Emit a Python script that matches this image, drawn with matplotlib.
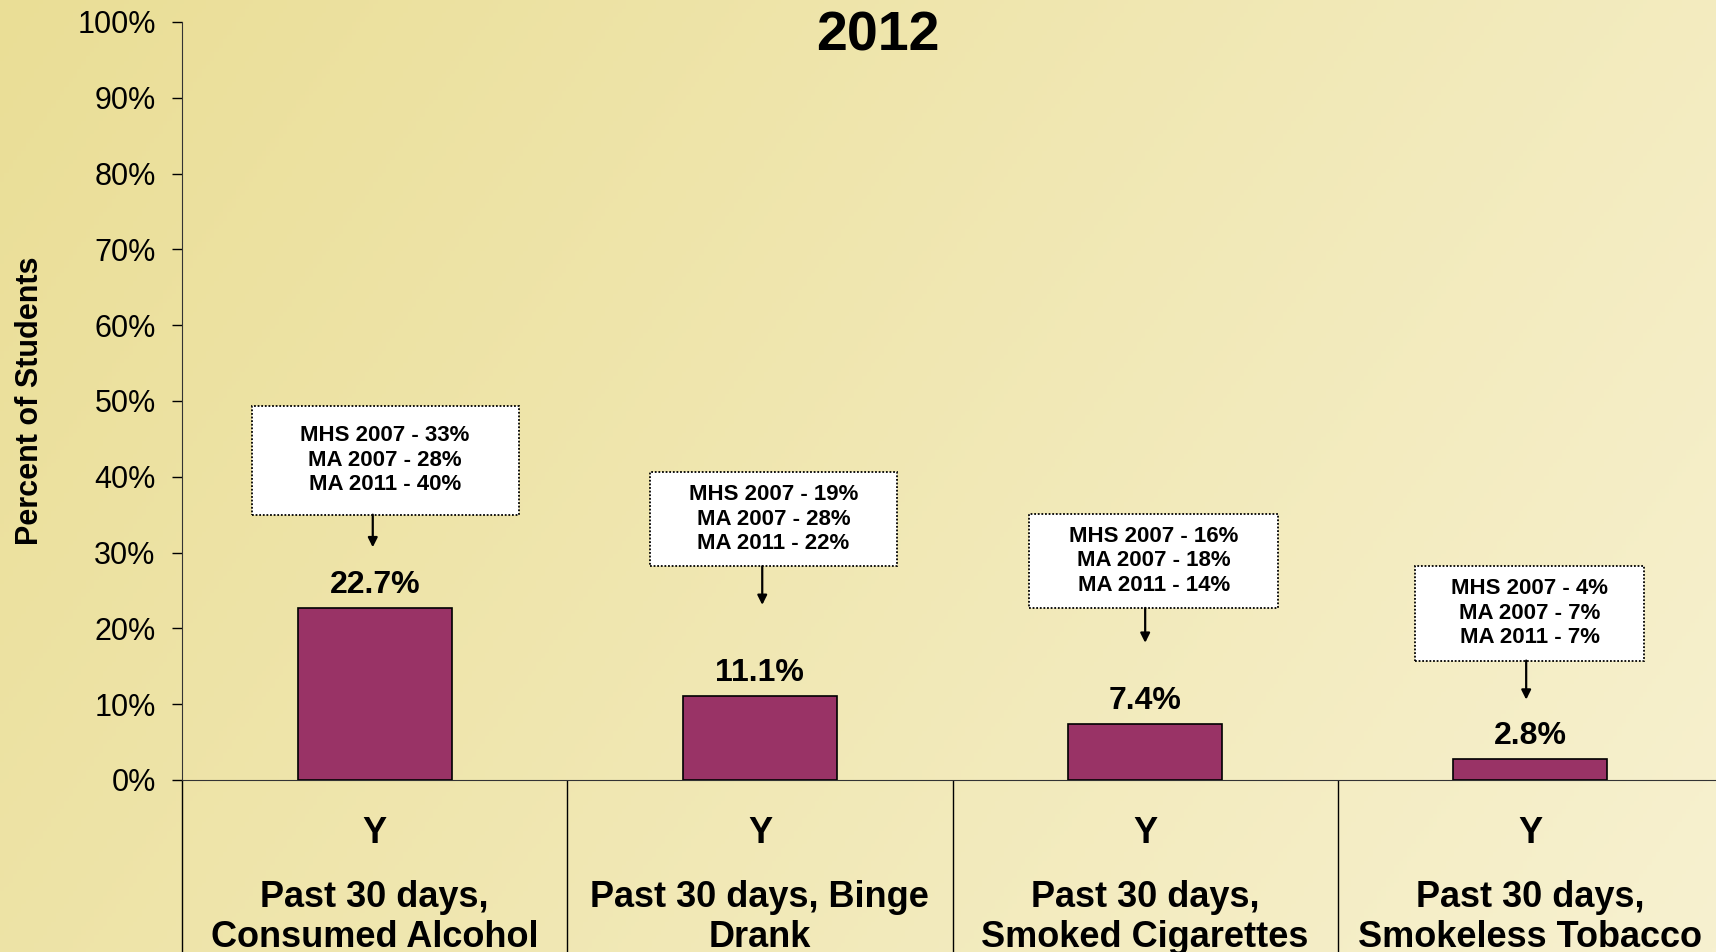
import numpy as np
import matplotlib.pyplot as plt
from matplotlib.patches import Rectangle

plt.rcParams['font.family'] = ['Liberation Sans', 'DejaVu Sans']

# datos
categories = ["Past 30 days,\nConsumed Alcohol", "Past 30 days, Binge\nDrank",
              "Past 30 days,\nSmoked Cigarettes", "Past 30 days,\nSmokeless Tobacco"]
group_label = "Y"
values = [22.7, 11.1, 7.4, 2.8]
compare_notes = ["MHS 2007 - 33%\nMA 2007 - 28%\nMA 2011 - 40%",
                 "MHS 2007 - 19%\nMA 2007 - 28%\nMA 2011 - 22%",
                 "MHS 2007 - 16%\nMA 2007 - 18%\nMA 2011 - 14%",
                 "MHS 2007 - 4%\nMA 2007 - 7%\nMA 2011 - 7%"]
yticks = np.arange(0, 101, 10)

# cajas de notas: centro x (offset), centro y, ancho, alto, flecha (inicio, fin)
box_dx = [0.027, 0.035, 0.022, -0.002]
box_cy = [42.2, 34.4, 28.9, 22.0]
box_w = [0.693, 0.641, 0.646, 0.594]
box_h = [14.4, 12.4, 12.4, 12.5]
arrow_dx = [-0.005, 0.006, 0.0, -0.011]
arrow_end = [30.7, 23.1, 18.1, 10.6]

fig = plt.figure(figsize=(17.16, 9.52), dpi=100)

# fondo degradado
bg = fig.add_axes([0, 0, 1, 1], zorder=-10)
gx, gy = np.meshgrid(np.linspace(0, 1, 400), np.linspace(0, 1, 220))
t = 0.72 * gx + 0.28 * gy
c0 = np.array([234, 222, 150]) / 255
c1 = np.array([247, 241, 208]) / 255
img = c0[None, None, :] * (1 - t[..., None]) + c1[None, None, :] * t[..., None]
bg.imshow(img, aspect='auto', extent=[0, 1, 0, 1], origin='upper')
bg.axis('off')

ax = fig.add_axes([0.1061, 0.1807, 0.898, 0.7962])
ax.patch.set_alpha(0)

x = np.arange(len(values)) + 0.5
bars = ax.bar(x, values, width=0.40, color="#993366", edgecolor="black", linewidth=1.2)

for xi, v in zip(x, values):
    ax.annotate(f"{v}%", (xi, v), xytext=(0, 16.5), textcoords="offset points",
                ha="center", va="center", fontsize=23, fontweight="bold")

for i, xi in enumerate(x):
    cx = xi + box_dx[i]
    ax.add_patch(Rectangle((cx - box_w[i] / 2, box_cy[i] - box_h[i] / 2), box_w[i], box_h[i],
                           facecolor="white", edgecolor="black", linewidth=1.3,
                           linestyle=(0, (1, 1)), zorder=3))
    ax.text(cx, box_cy[i], compare_notes[i], ha="center", va="center",
            fontsize=16, fontweight="bold", linespacing=1.22, zorder=4)
    ax_x = xi + arrow_dx[i]
    ax.annotate("", xy=(ax_x, arrow_end[i]), xytext=(ax_x, box_cy[i] - box_h[i] / 2),
                arrowprops=dict(arrowstyle="-|>", color="black", lw=1.6, mutation_scale=14,
                                shrinkA=0, shrinkB=0))

ax.set_xlim(0, 4)
ax.set_ylim(0, 100)
ax.set_yticks(yticks)
ax.set_yticklabels([f"{v}%" for v in yticks])
ax.tick_params(axis="y", length=7, width=1, pad=12, labelsize=22, direction="out")

ax.set_xticks(x)
ax.set_xticklabels(categories, fontsize=26, fontweight="bold", linespacing=1.2)
ax.tick_params(axis="x", which="major", length=0, pad=72)
ax.set_xticks(np.arange(5), minor=True)
ax.tick_params(axis="x", which="minor", length=130, width=1, direction="out")

for xi in x:
    ax.text(xi, -0.0705, group_label, transform=ax.get_xaxis_transform(),
            ha="center", va="center", fontsize=26, fontweight="bold")

ax.spines["top"].set_visible(False)
ax.spines["right"].set_visible(False)
ax.spines["left"].set_color("#333333")
ax.spines["bottom"].set_color("#333333")

ax.set_ylabel("Percent of Students", fontsize=22, fontweight="bold")
ax.yaxis.set_label_coords(-0.089, 0.5)

fig.text(0.5117, 0.962, "2012", ha="center", va="center", fontsize=40, fontweight="bold")

fig.savefig("out.png", dpi=100)
